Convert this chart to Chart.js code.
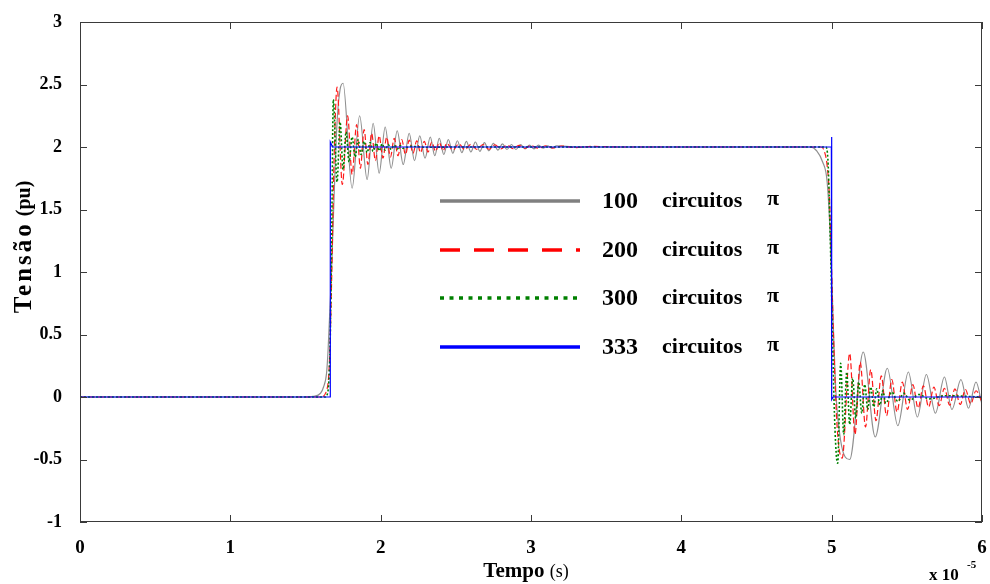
<!DOCTYPE html>
<html>
<head>
<meta charset="utf-8">
<script src="https://cdn.jsdelivr.net/npm/chart.js@4.4.1/dist/chart.umd.min.js"></script>
<style>
  html, body { margin: 0; padding: 0; background: #fff; }
  canvas { display: block; }
</style>
</head>
<body>
<canvas id="grafico" width="990" height="584"></canvas>
<script>
// tempo em unidades de 1e-5 s, tensao em pu
const tempo100 = [0, 1.50, 1.55, 1.60, 1.62, 1.64, 1.65, 1.67, 1.69, 1.71, 1.73, 1.75, 1.81, 1.86, 1.91, 1.95, 1.99, 2.03, 2.07, 2.11,
  2.15, 2.19, 2.225, 2.26, 2.295, 2.33, 2.36, 2.39, 2.42, 2.45, 2.48, 2.51, 2.54, 2.57, 2.60, 2.63, 2.66, 2.69, 2.72, 2.75,
  2.78, 2.81, 2.84, 2.87, 2.90, 2.93, 2.96, 2.99, 3.02, 3.05, 3.08, 3.11, 3.14, 3.17, 3.3, 3.6, 4.0, 4.4, 4.86, 4.90,
  4.94, 4.97, 4.99, 5.01, 5.03, 5.06, 5.09, 5.12, 5.21, 5.29, 5.37, 5.44, 5.51, 5.57, 5.63, 5.69, 5.75, 5.80, 5.86, 5.91,
  5.96, 6.0];
const tensao100 = [0, 0, 0.005, 0.03, 0.08, 0.19, 0.37, 0.9, 1.6, 2.2, 2.46, 2.51, 1.67, 2.25, 1.74, 2.19, 1.79, 2.16, 1.83, 2.13,
  1.86, 2.11, 1.89, 2.09, 1.91, 2.08, 1.93, 2.07, 1.94, 2.06, 1.95, 2.05, 1.955, 2.045, 1.96, 2.04, 1.965, 2.035, 1.97, 2.03,
  1.975, 2.025, 1.98, 2.02, 1.98, 2.02, 1.985, 2.015, 1.985, 2.015, 1.99, 2.01, 1.99, 2.01, 2.0, 2.0, 2.0, 2.0, 2.0, 1.97,
  1.88, 1.72, 1.3, 0.6, 0.0, -0.35, -0.48, -0.5, 0.36, -0.32, 0.23, -0.23, 0.20, -0.16, 0.18, -0.13, 0.16, -0.10, 0.14, -0.09,
  0.12, -0.06];

const tempo200 = [0, 1.60, 1.64, 1.66, 1.675, 1.69, 1.71, 1.745, 1.78, 1.81, 1.84, 1.865, 1.89, 1.915, 1.94, 1.965, 1.99, 2.015, 2.04, 2.065,
  2.09, 2.115, 2.14, 2.165, 2.19, 2.215, 2.24, 2.265, 2.29, 2.315, 2.34, 2.365, 2.39, 2.415, 2.44, 2.48, 2.52, 2.56, 2.60, 2.64,
  2.68, 2.72, 2.76, 2.80, 2.84, 2.88, 2.92, 2.96, 3.0, 3.05, 3.1, 3.15, 3.2, 3.3, 3.4, 3.6, 4.0, 4.5, 4.93, 4.95,
  4.97, 4.985, 5.0, 5.02, 5.04, 5.07, 5.12, 5.155, 5.19, 5.225, 5.26, 5.295, 5.33, 5.365, 5.40, 5.435, 5.47, 5.505, 5.54, 5.575,
  5.61, 5.645, 5.68, 5.715, 5.75, 5.785, 5.82, 5.855, 5.89, 5.925, 5.96, 6.0];
const tensao200 = [0, 0, 0.05, 0.3, 1.0, 1.9, 2.48, 1.70, 2.25, 1.78, 2.18, 1.83, 2.14, 1.86, 2.11, 1.89, 2.09, 1.91, 2.08, 1.92,
  2.07, 1.93, 2.06, 1.94, 2.055, 1.95, 2.05, 1.955, 2.045, 1.96, 2.04, 1.965, 2.035, 1.97, 2.03, 1.975, 2.025, 1.978, 2.022, 1.98,
  2.02, 1.982, 2.018, 1.985, 2.015, 1.987, 2.013, 1.99, 2.01, 1.99, 2.01, 1.992, 2.008, 1.995, 2.005, 2.0, 2.0, 2.0, 2.0, 1.97,
  1.85, 1.6, 1.0, 0.2, -0.3, -0.49, 0.35, -0.3, 0.28, -0.24, 0.22, -0.19, 0.17, -0.15, 0.14, -0.12, 0.12, -0.10, 0.10, -0.09,
  0.09, -0.08, 0.08, -0.07, 0.07, -0.065, 0.065, -0.06, 0.06, -0.055, 0.05, -0.04];

const tempo300 = [0, 1.63, 1.65, 1.665, 1.675, 1.685, 1.71, 1.73, 1.75, 1.77, 1.79, 1.81, 1.83, 1.85, 1.87, 1.89, 1.91, 1.93, 1.95, 1.97,
  1.99, 2.01, 2.03, 2.05, 2.07, 2.09, 2.11, 2.13, 2.15, 2.2, 2.3, 2.5, 4.96, 4.975, 4.99, 5.0, 5.015, 5.03, 5.04, 5.06,
  5.08, 5.10, 5.12, 5.14, 5.16, 5.18, 5.20, 5.22, 5.24, 5.26, 5.28, 5.30, 5.32, 5.34, 5.36, 5.40, 5.44, 5.48, 5.52, 5.58,
  5.65, 5.75, 6.0];
const tensao300 = [0, 0, 0.05, 0.5, 1.4, 2.38, 1.72, 2.2, 1.82, 2.12, 1.88, 2.08, 1.92, 2.06, 1.94, 2.045, 1.955, 2.035, 1.965, 2.03,
  1.97, 2.025, 1.975, 2.02, 1.98, 2.015, 1.985, 2.012, 1.99, 2.005, 1.998, 2.0, 2.0, 1.9, 1.3, 0.8, 0.0, -0.45, -0.53, 0.27,
  -0.3, 0.2, -0.22, 0.15, -0.17, 0.12, -0.13, 0.1, -0.1, 0.08, -0.08, 0.065, -0.065, 0.05, -0.05, 0.04, -0.035, 0.03, -0.025, 0.02,
  -0.015, 0.01, 0.0];

const tempo333 = [0, 1.665, 1.665, 1.68, 4.998, 5.0, 5.0, 5.01, 6.0];
const tensao333 = [0, 0, 2.04, 2.0, 2.0, 2.08, -0.02, 0.0, 0.0];

const nomes = ['100', '200', '300', '333'];
const xTicks = [0, 1, 2, 3, 4, 5, 6];
const yTicks = [-1, -0.5, 0, 0.5, 1, 1.5, 2, 2.5, 3];

function pontos(xs, ys) {
  return xs.map((v, i) => ({ x: v, y: ys[i] }));
}

const SERIF = '"Liberation Serif", "Times New Roman", serif';

// cores/estilos do grafico e da legenda
const estilos = [
  { cor: '#8f8f8f', corLeg: '#808080', dash: [], dashLeg: [] },
  { cor: '#ff1a1a', corLeg: '#ff0000', dash: [6, 3], dashLeg: [20, 14] },
  { cor: '#008000', corLeg: '#008000', dash: [2, 2], dashLeg: [4, 5.5] },
  { cor: '#0000ff', corLeg: '#0000ff', dash: [], dashLeg: [] }
];

const decor = {
  id: 'decor',
  afterDraw(chart) {
    const ctx = chart.ctx;
    const a = chart.chartArea;
    const sx = chart.scales.x, sy = chart.scales.y;
    ctx.save();
    // moldura
    ctx.strokeStyle = '#3a3a3a';
    ctx.lineWidth = 1;
    ctx.setLineDash([]);
    ctx.strokeRect(Math.round(a.left) + 0.5, Math.round(a.top) + 0.5, Math.round(a.width) - 1, Math.round(a.height) - 1);
    // ticks para dentro
    ctx.beginPath();
    xTicks.forEach(v => {
      const px = Math.round(sx.getPixelForValue(v)) + 0.5;
      ctx.moveTo(px, a.bottom); ctx.lineTo(px, a.bottom - 7);
      ctx.moveTo(px, a.top); ctx.lineTo(px, a.top + 7);
    });
    yTicks.forEach(v => {
      const py = Math.round(sy.getPixelForValue(v)) + 0.5;
      ctx.moveTo(a.left, py); ctx.lineTo(a.left + 7, py);
      ctx.moveTo(a.right, py); ctx.lineTo(a.right - 7, py);
    });
    ctx.stroke();

    // legenda
    const lx0 = 440, lx1 = 580, ly = [201, 250, 298, 347];
    nomes.forEach((n, i) => {
      const e = estilos[i];
      ctx.strokeStyle = e.corLeg;
      ctx.lineWidth = 3.5;
      ctx.setLineDash(e.dashLeg);
      ctx.lineCap = 'butt';
      ctx.beginPath();
      ctx.moveTo(lx0, ly[i]); ctx.lineTo(lx1, ly[i]);
      ctx.stroke();
      ctx.setLineDash([]);
      ctx.fillStyle = '#000';
      ctx.textBaseline = 'middle';
      ctx.textAlign = 'left';
      ctx.font = 'bold 24px ' + SERIF;
      ctx.fillText(n, 602, ly[i] + 1);
      ctx.font = 'bold 22px ' + SERIF;
      ctx.fillText('circuitos', 662, ly[i]);
      ctx.font = 'bold 22px ' + SERIF;
      ctx.fillText('\u03c0', 767, ly[i] - 2);
    });

    // titulo eixo y
    ctx.save();
    ctx.translate(25, 247);
    ctx.rotate(-Math.PI / 2);
    ctx.fillStyle = '#000';
    ctx.textBaseline = 'middle';
    ctx.textAlign = 'left';
    ctx.font = 'bold 25px ' + SERIF;
    ctx.letterSpacing = '3px';
    const w1 = ctx.measureText('Tensão').width;
    ctx.letterSpacing = '0px';
    ctx.font = 'bold 20px ' + SERIF;
    const w2 = ctx.measureText(' (pu)').width;
    const start = -(w1 + w2) / 2;
    ctx.font = 'bold 25px ' + SERIF;
    ctx.letterSpacing = '3px';
    ctx.fillText('Tensão', start, 0);
    ctx.letterSpacing = '0px';
    ctx.font = 'bold 20px ' + SERIF;
    ctx.fillText(' (pu)', start + w1, 0);
    ctx.restore();

    // titulo eixo x
    ctx.fillStyle = '#000';
    ctx.textBaseline = 'alphabetic';
    ctx.textAlign = 'left';
    ctx.font = 'bold 21px ' + SERIF;
    const t1 = ctx.measureText('Tempo ').width;
    ctx.font = '18px ' + SERIF;
    const t2 = ctx.measureText('(s)').width;
    const tx = 526 - (t1 + t2) / 2;
    ctx.font = 'bold 21px ' + SERIF;
    ctx.fillText('Tempo ', tx, 577);
    ctx.font = '18px ' + SERIF;
    ctx.fillText('(s)', tx + t1, 577);

    // multiplicador
    ctx.font = 'bold 17px ' + SERIF;
    ctx.fillText('x 10', 929, 580);
    ctx.font = 'bold 11px ' + SERIF;
    ctx.fillText('-5', 967, 568);
    ctx.restore();
  }
};

const series = [
  { nome: nomes[0], xs: tempo100, ys: tensao100 },
  { nome: nomes[1], xs: tempo200, ys: tensao200 },
  { nome: nomes[2], xs: tempo300, ys: tensao300 },
  { nome: nomes[3], xs: tempo333, ys: tensao333 }
];

const datasets = series.map((s, i) => ({
  label: s.nome + ' circuitos \u03c0',
  data: pontos(s.xs, s.ys),
  showLine: true,
  borderColor: estilos[i].cor,
  borderDash: estilos[i].dash,
  borderWidth: i === 2 ? 1.6 : 1.2,
  pointRadius: 0,
  fill: false,
  cubicInterpolationMode: i === 3 ? 'default' : 'monotone',
  tension: 0,
  order: 3 - i
}));

const ctx = document.getElementById('grafico');
new Chart(ctx, {
  type: 'scatter',
  data: { datasets: datasets },
  options: {
    responsive: false,
    devicePixelRatio: 1,
    animation: false,
    layout: { padding: { top: 22, right: 8, left: 0, bottom: 0 } },
    plugins: {
      legend: { display: false },
      tooltip: { enabled: false }
    },
    scales: {
      x: {
        type: 'linear',
        min: 0,
        max: 6,
        grid: { display: false },
        border: { display: false },
        ticks: {
          stepSize: 1,
          padding: 7,
          color: '#000',
          font: { family: SERIF, weight: 'bold', size: 19 },
          callback: (v) => String(v)
        },
        afterFit: (scale) => {
          scale.height = 62;
          scale.paddingLeft = 0;
          scale.paddingRight = 0;
        }
      },
      y: {
        type: 'linear',
        min: -1,
        max: 3,
        grid: { display: false },
        border: { display: false },
        ticks: {
          stepSize: 0.5,
          padding: 10,
          color: '#000',
          font: { family: SERIF, weight: 'bold', size: 18 },
          callback: (v) => String(v)
        },
        afterFit: (scale) => {
          scale.width = 80;
          scale.paddingTop = 0;
          scale.paddingBottom = 0;
        }
      }
    }
  },
  plugins: [decor]
});
</script>
</body>
</html>
